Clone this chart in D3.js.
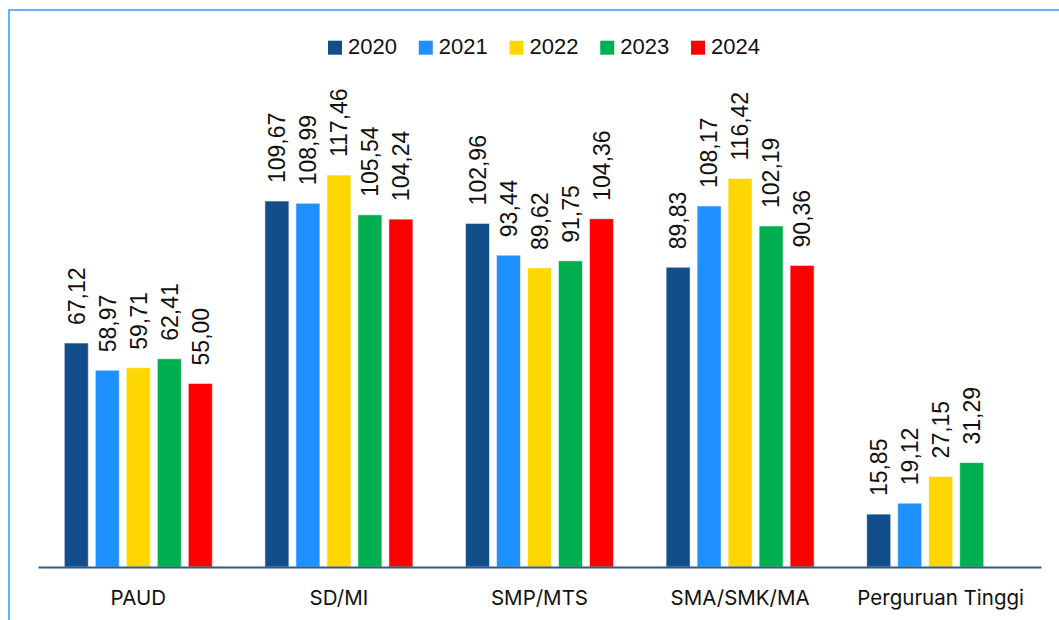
<!DOCTYPE html>
<html>
<head>
<meta charset="utf-8">
<script src="https://cdn.jsdelivr.net/npm/d3@7/dist/d3.min.js"></script>
<style>
  html, body { margin: 0; padding: 0; background: #fff; }
  svg { display: block; }
</style>
</head>
<body>
<svg id="chart" width="1059" height="620"></svg>
<script>
// Education levels and years
const categories = ["PAUD", "SD/MI", "SMP/MTS", "SMA/SMK/MA", "Perguruan Tinggi"];
const years = ["2020", "2021", "2022", "2023", "2024"];

// Values per year, in category order (null = no data)
const values2020 = [67.12, 109.67, 102.96, 89.83, 15.85];
const values2021 = [58.97, 108.99, 93.44, 108.17, 19.12];
const values2022 = [59.71, 117.46, 89.62, 116.42, 27.15];
const values2023 = [62.41, 105.54, 91.75, 102.19, 31.29];
const values2024 = [55.00, 104.24, 104.36, 90.36, null];

const seriesValues = [values2020, values2021, values2022, values2023, values2024];
const colors = ["#124E89", "#1E90FF", "#FFD700", "#00B050", "#FF0000"];

const svg = d3.select("#chart");

// Outer frame: left and top edges
svg.append("path")
  .attr("d", "M9,620 L9,10 L1059,10")
  .attr("fill", "none")
  .attr("stroke", "#3399FF")
  .attr("stroke-width", 1.5);

const x0 = d3.scaleBand().domain(categories).range([38, 1041]);
const x1 = d3.scaleBand().domain(years).range([26.3, 174.3]).paddingInner(7 / 31).paddingOuter(0);
const y = d3.scaleLinear().domain([0, 140]).range([567, 99.8]);

const fmt = v => d3.format(".2f")(v).replace(".", ",");

// Bars with rotated value labels
const groups = svg.append("g").selectAll("g")
  .data(categories)
  .join("g")
  .attr("transform", c => `translate(${x0(c)},0)`);

groups.each(function (c, ci) {
  const g = d3.select(this);
  const items = years.map((yr, si) => ({ yr, si, v: seriesValues[si][ci] }))
    .filter(d => d.v != null);

  g.selectAll("rect")
    .data(items)
    .join("rect")
    .attr("x", d => x1(d.yr))
    .attr("y", d => y(d.v))
    .attr("width", x1.bandwidth())
    .attr("height", d => y(0) - y(d.v))
    .attr("fill", d => colors[d.si])
    .attr("stroke", "#ffffff")
    .attr("stroke-opacity", 0.55)
    .attr("stroke-width", 1);

  g.selectAll("text")
    .data(items)
    .join("text")
    .attr("transform", d => `translate(${x1(d.yr) + x1.bandwidth() / 2},${y(d.v) - 18}) rotate(-90)`)
    .attr("dy", "0.36em")
    .attr("text-anchor", "start")
    .attr("font-family", "'Liberation Sans', Arial, sans-serif")
    .attr("font-size", 23)
    .attr("fill", "#111")
    .text(d => fmt(d.v));
});

// Category axis baseline and labels
const xAxis = d3.axisBottom(x0).tickSize(0).tickPadding(0);
const axisG = svg.append("g").attr("transform", `translate(0,${y(0)})`).call(xAxis);
axisG.select(".domain")
  .attr("stroke", "#2E5C8A")
  .attr("stroke-width", 2);
axisG.selectAll(".tick text")
  .attr("y", 38)
  .attr("dy", 0)
  .attr("font-family", "Inter, 'Open Sans', sans-serif")
  .attr("font-size", 20.5)
  .attr("fill", "#111");

// Legend
const legendX = d3.scalePoint().domain(years).range([328, 691]);
const legend = svg.append("g").selectAll("g")
  .data(years)
  .join("g")
  .attr("transform", d => `translate(${legendX(d)},0)`);
legend.append("rect")
  .attr("x", 0).attr("y", 40.7)
  .attr("width", 14).attr("height", 14)
  .attr("fill", (d, i) => colors[i]);
legend.append("text")
  .attr("x", 20).attr("y", 54.3)
  .attr("font-family", "'Liberation Sans', Arial, sans-serif")
  .attr("font-size", 22)
  .attr("fill", "#111")
  .text(d => d);
</script>
</body>
</html>
